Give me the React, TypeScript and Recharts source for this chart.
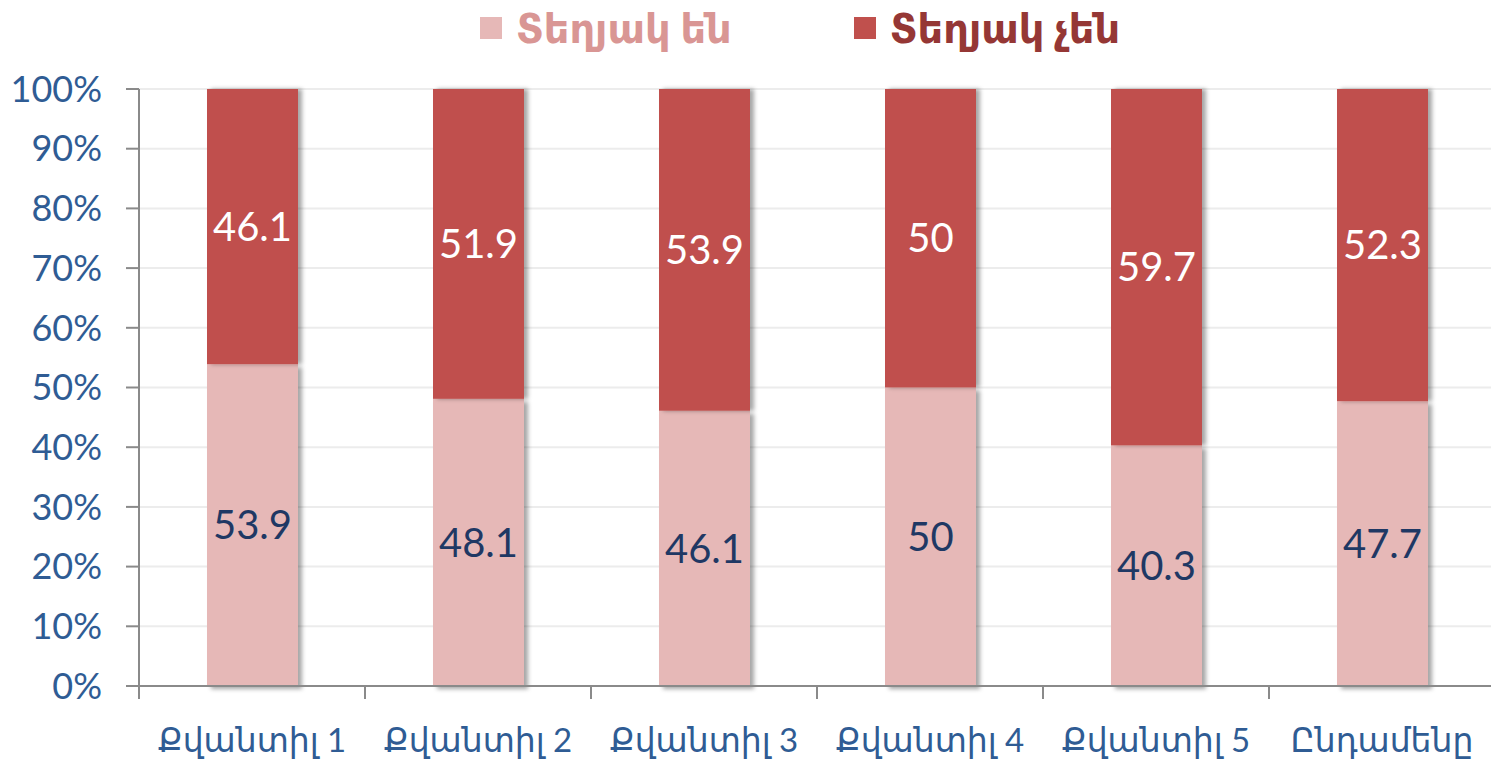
import { Bar, BarChart, CartesianGrid, LabelList, XAxis, YAxis } from "recharts"

const categories = ["Քվանտիլ 1", "Քվանտիլ 2", "Քվանտիլ 3", "Քվանտիլ 4", "Քվանտիլ 5", "Ընդամենը"]
const aware = [53.9, 48.1, 46.1, 50, 40.3, 47.7]
const unaware = [46.1, 51.9, 53.9, 50, 59.7, 52.3]
const yTicks = [0, 10, 20, 30, 40, 50, 60, 70, 80, 90, 100]

const data = categories.map((name, i) => ({ name, aware: aware[i], unaware: unaware[i] }))

const FONT = "'Lato', 'DejaVu Sans', sans-serif"
const AXIS_BLUE = "#2f5c94"

// plot area runs a few px past the right edge, like the original
const CHART_W = 1495
const PLOT_W = CHART_W - 139

const XTick = (props: any) => {
    const { x, y, payload } = props
    const half = PLOT_W / categories.length / 2
    return (
        <g>
            <line x1={x - half} x2={x - half} y1={y - 8} y2={y + 5} stroke="#8a8a8a" strokeWidth={2} />
            <text x={x} y={y + 58} textAnchor="middle" fill={AXIS_BLUE} fontSize={33} fontFamily={FONT}>
                {payload.value}
            </text>
        </g>
    )
}

const ShadowBar = (props: any) => {
    const { x, y, width, height, fill, shadow } = props
    return <rect x={x} y={y} width={width} height={height} fill={fill} filter={`url(#${shadow})`} />
}

// legend drawn outside the chart so it doesn't eat into the plot area
const ChartLegend = () => (
    <div style={{ position: "absolute", left: 480, top: 5, display: "flex", gap: 122, fontFamily: FONT, fontWeight: 700, fontSize: 40, lineHeight: "46px" }}>
        <div style={{ display: "flex", alignItems: "center", color: "#d99694" }}>
            <span style={{ width: 22, height: 22, background: "#e6b8b7", marginRight: 14 }} />
            Տեղյակ են
        </div>
        <div style={{ display: "flex", alignItems: "center", color: "#953735" }}>
            <span style={{ width: 22, height: 22, background: "#c0504d", marginRight: 14 }} />
            Տեղյակ չեն
        </div>
    </div>
)

export default function App() {
    return (
        <div style={{ position: "absolute", left: 0, top: 0, width: 1491, height: 763, overflow: "hidden", background: "#fff" }}>
            <BarChart width={CHART_W} height={763} data={data} margin={{ top: 89, right: 0, bottom: 47, left: 0 }}>
                <defs>
                    <filter id="shTop" x="-20%" y="-10%" width="140%" height="120%">
                        <feDropShadow dx={4} dy={0} stdDeviation={2} floodColor="#000" floodOpacity={0.35} />
                    </filter>
                    <filter id="shBottom" x="-20%" y="-10%" width="140%" height="120%">
                        <feDropShadow dx={4} dy={3} stdDeviation={2} floodColor="#000" floodOpacity={0.35} />
                    </filter>
                </defs>
                <CartesianGrid vertical={false} stroke="#ececec" strokeWidth={2} />
                <XAxis
                    dataKey="name"
                    height={30}
                    tick={<XTick />}
                    tickLine={false}
                    axisLine={{ stroke: "#8a8a8a", strokeWidth: 2 }}
                    interval={0}
                />
                <YAxis
                    width={139}
                    domain={[0, 100]}
                    ticks={yTicks}
                    tickFormatter={(v: number) => `${v}%`}
                    tickSize={13}
                    tickMargin={24}
                    tick={{ fill: AXIS_BLUE, fontSize: 36, fontFamily: FONT }}
                    tickLine={{ stroke: "#8a8a8a", strokeWidth: 2 }}
                    axisLine={{ stroke: "#8a8a8a", strokeWidth: 2 }}
                />
                <Bar dataKey="aware" stackId="a" fill="#e6b8b7" barSize={91} isAnimationActive={false}
                    shape={(p: any) => <ShadowBar {...p} shadow="shBottom" />}>
                    <LabelList dataKey="aware" position="center" fill="#1f3864" fontSize={40} fontFamily={FONT} />
                </Bar>
                <Bar dataKey="unaware" stackId="a" fill="#c0504d" barSize={91} isAnimationActive={false}
                    shape={(p: any) => <ShadowBar {...p} shadow="shTop" />}>
                    <LabelList dataKey="unaware" position="center" fill="#ffffff" fontSize={40} fontFamily={FONT} />
                </Bar>
            </BarChart>
            <ChartLegend />
        </div>
    )
}
